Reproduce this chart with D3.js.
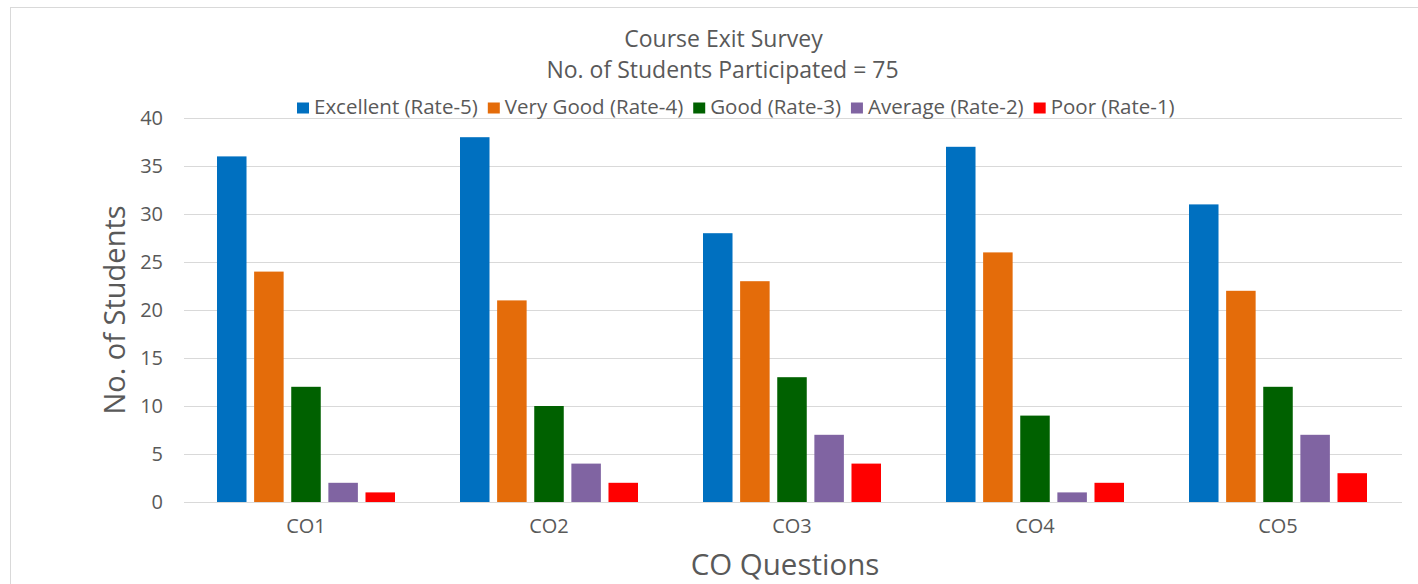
<!DOCTYPE html>
<html><head><meta charset="utf-8">
<script src="https://cdn.jsdelivr.net/npm/d3@7"></script>
<style>
html,body{margin:0;padding:0;background:#fff;}
svg{display:block;font-family:"Open Sans",sans-serif;}
</style></head>
<body><svg id="chart" width="1418" height="584"></svg>
<script>
const categories = ["CO1","CO2","CO3","CO4","CO5"];
const seriesNames = ["Excellent (Rate-5)","Very Good (Rate-4)","Good (Rate-3)","Average (Rate-2)","Poor (Rate-1)"];
const excellent = [36,38,28,37,31];
const veryGood  = [24,21,23,26,22];
const good      = [12,10,13,9,12];
const average   = [2,4,7,1,7];
const poor      = [1,2,4,2,3];
const yTicks = [0,5,10,15,20,25,30,35,40];
const colors = ["#0070C0","#E46C0A","#006100","#8064A2","#FF0000"];
const seriesValues = [excellent, veryGood, good, average, poor];

const svg = d3.select("#chart");
svg.append("rect").attr("x",10.5).attr("y",7.5).attr("width",1420).attr("height",600)
  .attr("fill","#fff").attr("stroke","#d9d9d9");

const m = {left:184, right:1402, top:118, bottom:502};
const x0 = d3.scaleBand().domain(categories).range([184.5,1399.5]).paddingInner(0.2675).paddingOuter(0.2675/2);
const x1 = d3.scaleBand().domain(d3.range(seriesNames.length)).range([0,x0.bandwidth()]).paddingInner(0.205).paddingOuter(0);
const y = d3.scaleLinear().domain([0,40]).range([m.bottom,m.top]);

// gridlines
svg.append("g").attr("transform",`translate(${m.left},0)`)
  .call(d3.axisLeft(y).tickValues(yTicks).tickSize(-(m.right-m.left)).tickFormat(""))
  .call(g=>g.select(".domain").remove())
  .call(g=>g.selectAll("line").attr("stroke","#d9d9d9").attr("stroke-width",1));

// y labels
svg.append("g").attr("transform",`translate(${m.left},0)`)
  .call(d3.axisLeft(y).tickValues(yTicks).tickSize(0).tickPadding(21))
  .call(g=>g.select(".domain").remove())
  .call(g=>g.selectAll("text").attr("fill","#595959").style("font-size","20px").style("font-family","'Open Sans',sans-serif"));

// bars
const groups = svg.append("g").selectAll("g").data(categories).join("g")
  .attr("transform",d=>`translate(${x0(d)},0)`);
groups.selectAll("rect").data((c,ci)=>seriesValues.map((s,si)=>({si, v:s[ci]}))).join("rect")
  .attr("x",d=>x1(d.si)).attr("width",x1.bandwidth())
  .attr("y",d=>y(d.v)).attr("height",d=>y(0)-y(d.v))
  .attr("fill",d=>colors[d.si]);

// x axis
svg.append("g").attr("transform",`translate(0,${m.bottom})`)
  .call(d3.axisBottom(x0).tickSize(0).tickPadding(17))
  .call(g=>g.select(".domain").attr("stroke","#d9d9d9").attr("d",`M${m.left},0.5H${m.right}`))
  .call(g=>g.selectAll("text").attr("fill","#595959").style("font-size","20px").style("font-family","'Open Sans',sans-serif"));

// titles
svg.append("text").attr("x",723.5).attr("y",47).attr("text-anchor","middle")
  .attr("fill","#595959").style("font-size","23px").text("Course Exit Survey");
svg.append("text").attr("x",722.5).attr("y",77.5).attr("text-anchor","middle")
  .attr("fill","#595959").style("font-size","23px").text("No. of Students Participated = 75");
svg.append("text").attr("transform","translate(125,310) rotate(-90)").attr("text-anchor","middle")
  .attr("fill","#595959").style("font-size","29px").text("No. of Students");
svg.append("text").attr("x",785).attr("y",575).attr("text-anchor","middle")
  .attr("fill","#595959").style("font-size","29.5px").text("CO Questions");

// legend
const legend = svg.append("g").attr("transform","translate(297,113.5)");
let lx = 0;
seriesNames.forEach((n,i)=>{
  const g = legend.append("g").attr("transform",`translate(${lx},0)`);
  g.append("rect").attr("x",0).attr("y",-11).attr("width",12).attr("height",11).attr("fill",colors[i]);
  const t = g.append("text").attr("x",17).attr("y",0).attr("fill","#595959").style("font-size","20.5px").text(n);
  lx += 17 + t.node().getComputedTextLength() + 10;
});
</script></body></html>
